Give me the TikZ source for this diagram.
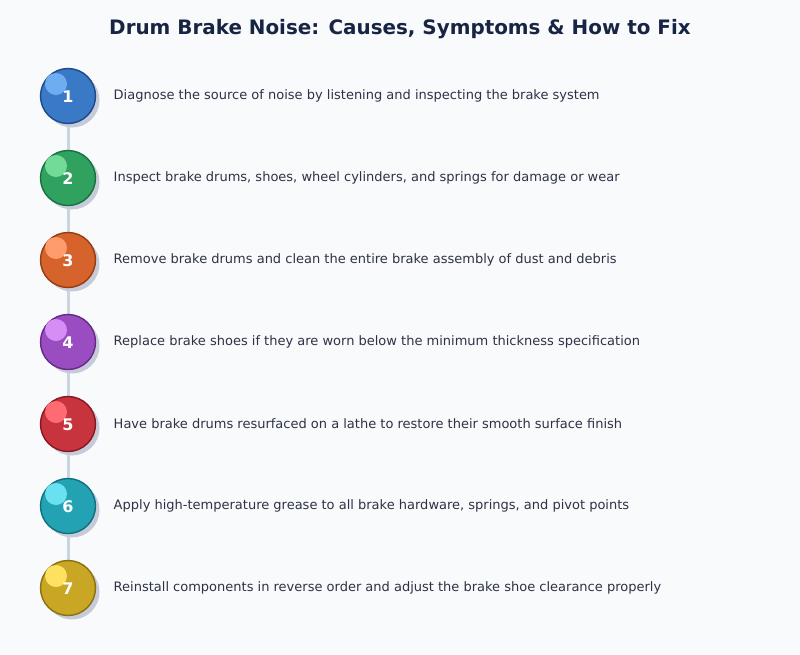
\documentclass[tikz,border=0pt]{standalone}
\usepackage{fontspec}
\setmainfont{DejaVu Sans}
\usetikzlibrary{positioning,backgrounds}
% Farben
\definecolor{bg}{HTML}{F8FAFC}
\definecolor{titlecol}{HTML}{172443}
\definecolor{textcol}{HTML}{2D3345}
\definecolor{linecol}{HTML}{CBD5E1}
\definecolor{shadowcol}{HTML}{C5CBD8}
\definecolor{blueF}{HTML}{3A79C6} \definecolor{blueD}{HTML}{1C4A8C} \definecolor{blueL}{HTML}{6FADF2}
\definecolor{greenF}{HTML}{30A15E} \definecolor{greenD}{HTML}{187040} \definecolor{greenL}{HTML}{72DB98}
\definecolor{orangeF}{HTML}{D5632B} \definecolor{orangeD}{HTML}{9A3A12} \definecolor{orangeL}{HTML}{FF9C6C}
\definecolor{purpleF}{HTML}{9A4DC0} \definecolor{purpleD}{HTML}{672887} \definecolor{purpleL}{HTML}{D68DF5}
\definecolor{redF}{HTML}{C7343E} \definecolor{redD}{HTML}{881820} \definecolor{redL}{HTML}{FF6B73}
\definecolor{tealF}{HTML}{22A2B3} \definecolor{tealD}{HTML}{126F7D} \definecolor{tealL}{HTML}{6AE1F0}
\definecolor{goldF}{HTML}{C9A623} \definecolor{goldD}{HTML}{8A700E} \definecolor{goldL}{HTML}{FFE161}
\begin{document}
\begin{tikzpicture}[x=1pt,y=-1pt,line join=round,line cap=round,
	ball/.style={circle,minimum size=55pt,inner sep=0pt,line width=1.4pt},
	num/.style={text=white,font=\bfseries\fontsize{16}{18}\selectfont},
	lab/.style={anchor=west,text=textcol,font=\fontsize{13}{15}\selectfont},
	link/.style={draw=linecol,line width=3pt,line cap=butt}]
	\def\xb{68} \def\ytop{96} \def\dy{82} % Lage der Kugeln
	\useasboundingbox (0,0) rectangle (800,654);
	\node[text=titlecol,font=\bfseries\fontsize{19.9}{22}\selectfont] (title) at (400,29) {Drum Brake Noise: Causes, Symptoms \& How to Fix};
	\foreach \n/\c/\t in {1/blue/{Diagnose the source of noise by listening and inspecting the brake system},
		2/green/{Inspect brake drums, shoes, wheel cylinders, and springs for damage or wear},
		3/orange/{Remove brake drums and clean the entire brake assembly of dust and debris},
		4/purple/{Replace brake shoes if they are worn below the minimum thickness specification},
		5/red/{Have brake drums resurfaced on a lathe to restore their smooth surface finish},
		6/teal/{Apply high-temperature grease to all brake hardware, springs, and pivot points},
		7/gold/{Reinstall components in reverse order and adjust the brake shoe clearance properly}}
	{
		\pgfmathsetmacro\yb{\ytop+(\n-1)*\dy}
		\fill[shadowcol] (\xb+4,\yb+4) circle (27.5);
		\node[ball,fill=\c F,draw=\c D] (step\n) at (\xb,\yb) {};
		\fill[\c L] (\xb-12,\yb-12) circle (11);
		\node[num] (num\n) at (\xb,\yb+1) {\n};
		\node[lab,right=14pt of step\n] (lab\n) {\t};
	}
	\begin{scope}[on background layer]
		\fill[bg] (0,0) rectangle (800,654);
		\foreach \n [evaluate=\n as \m using int(\n+1)] in {1,...,6}
		\draw[link] (step\n) -- (step\m);
	\end{scope}
\end{tikzpicture}
\end{document}
